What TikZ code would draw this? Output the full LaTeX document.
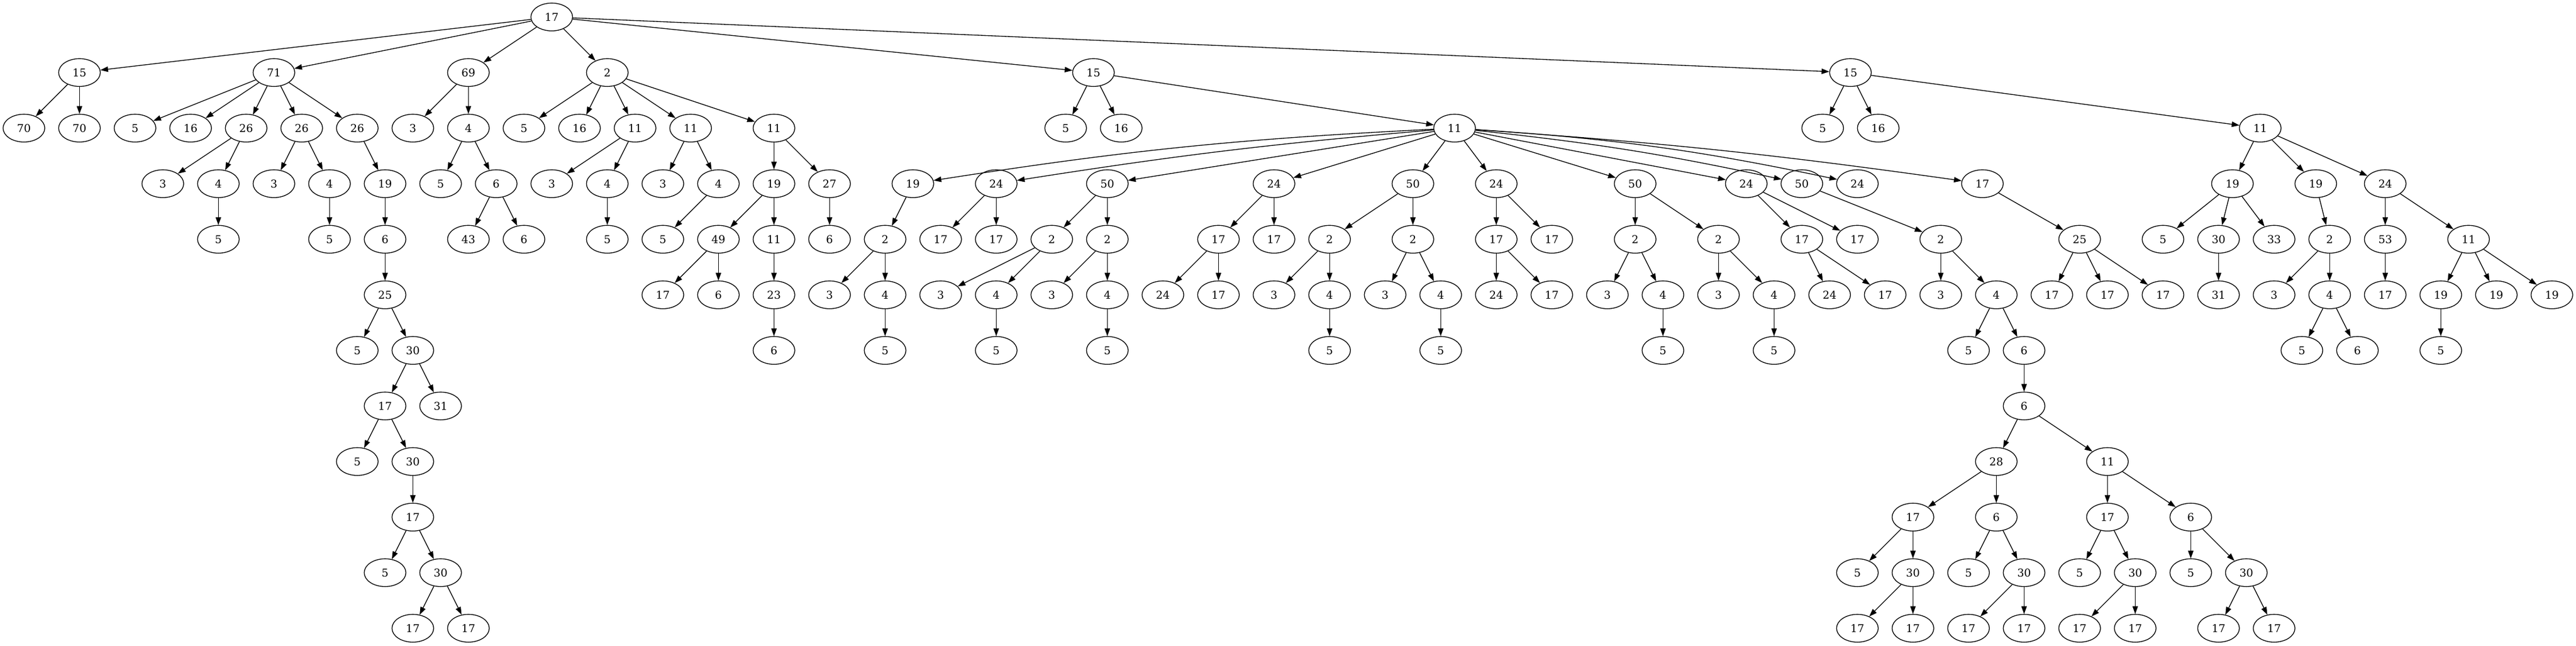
\documentclass[tikz,border=0pt]{standalone}
\usepackage{fontspec}
\setmainfont{DejaVu Serif}
\usetikzlibrary{arrows.meta,positioning,shapes.geometric}

\begin{document}
\begin{tikzpicture}[x=72pt,y=-72pt,node distance=72pt,on grid,line width=1pt,
    >={Triangle[length=10pt,width=7pt]},
    vtx/.style={ellipse,draw,minimum width=54pt,minimum height=36pt,inner sep=0pt,
      font=\fontsize{14pt}{16pt}\selectfont}]
      \useasboundingbox (-31pt,22pt) rectangle (3307.25pt,-814.25pt);
      \node[vtx] (a1) at (9.5,0) {17};

      \node[vtx] (b1) at (1,1) {15};
      \node[vtx] (b2) at (4.5,1) {71};
      \node[vtx] (b3) at (8,1) {69};
      \node[vtx] (b4) at (10.5,1) {2};
      \node[vtx] (b5) at (19.25,1) {15};
      \node[vtx] (b6) at (32.875,1) {15};

      \node[vtx] (c1) at (0,2) {70};
      \node[vtx] (c2) [below=of b1] {70};
      \node[vtx] (c3) [right=of c2] {5};
      \node[vtx] (c4) [right=of c3] {16};
      \node[vtx] (c5) [right=of c4] {26};
      \node[vtx] (c6) [right=of c5] {26};
      \node[vtx] (c7) [right=of c6] {26};
      \node[vtx] (c8) [right=of c7] {3};
      \node[vtx] (c9) [below=of b3] {4};
      \node[vtx] (c10) [right=of c9] {5};
      \node[vtx] (c11) [right=of c10] {16};
      \node[vtx] (c12) [right=of c11] {11};
      \node[vtx] (c13) [right=of c12] {11};
      \node[vtx] (c14) at (13.5,2) {11};
      \node[vtx] (c15) [below left=72pt and 36pt of b5] {5};
      \node[vtx] (c16) [right=of c15] {16};
      \node[vtx] (c17) at (25.75,2) {11};
      \node[vtx] (c18) [below left=72pt and 36pt of b6] {5};
      \node[vtx] (c19) [right=of c18] {16};
      \node[vtx] (c20) at (40.25,2) {11};

      \node[vtx] (d1) at (2.5,3) {3};
      \node[vtx] (d2) [right=of d1] {4};
      \node[vtx] (d3) [right=of d2] {3};
      \node[vtx] (d4) [right=of d3] {4};
      \node[vtx] (d5) [right=of d4] {19};
      \node[vtx] (d6) [right=of d5] {5};
      \node[vtx] (d7) [right=of d6] {6};
      \node[vtx] (d8) [right=of d7] {3};
      \node[vtx] (d9) [right=of d8] {4};
      \node[vtx] (d10) [right=of d9] {3};
      \node[vtx] (d11) [right=of d10] {4};
      \node[vtx] (d12) [right=of d11] {19};
      \node[vtx] (d13) [right=of d12] {27};
      \node[vtx] (d14) at (16,3) {19};
      \node[vtx] (d15) at (17.5,3) {24};
      \node[vtx] (d16) at (19.5,3) {50};
      \node[vtx] (d17) at (22.5,3) {24};
      \node[vtx] (d18) at (25,3) {50};
      \node[vtx] (d19) at (26.5,3) {24};
      \node[vtx] (d20) at (29,3) {50};
      \node[vtx] (d21) at (31,3) {24};
      \node[vtx] (d22) [right=of d21] {50};
      \node[vtx] (d23) [right=of d22] {24};
      \node[vtx] (d24) at (35.25,3) {17};
      \node[vtx] (d25) at (39.75,3) {19};
      \node[vtx] (d26) at (41.25,3) {19};
      \node[vtx] (d27) at (42.5,3) {24};

      \node[vtx] (e1) [below=of d2] {5};
      \node[vtx] (e2) [below=of d4] {5};
      \node[vtx] (e3) [below=of d5] {6};
      \node[vtx] (e4) [below left=72pt and 36pt of d7] {43};
      \node[vtx] (e5) [right=of e4] {6};
      \node[vtx] (e6) [below=of d9] {5};
      \node[vtx] (e7) [below=of d10] {5};
      \node[vtx] (e8) [right=of e7] {49};
      \node[vtx] (e9) [right=of e8] {11};
      \node[vtx] (e10) [right=of e9] {6};
      \node[vtx] (e11) [right=of e10] {2};
      \node[vtx] (e12) [right=of e11] {17};
      \node[vtx] (e13) [right=of e12] {17};
      \node[vtx] (e14) [right=of e13] {2};
      \node[vtx] (e15) [right=of e14] {2};
      \node[vtx] (e16) at (21.5,4) {17};
      \node[vtx] (e17) [right=of e16] {17};
      \node[vtx] (e18) [right=of e17] {2};
      \node[vtx] (e19) [below=of d18] {2};
      \node[vtx] (e20) [below=of d19] {17};
      \node[vtx] (e21) [right=of e20] {17};
      \node[vtx] (e22) [below=of d20] {2};
      \node[vtx] (e23) at (30.5,4) {2};
      \node[vtx] (e24) [below=of d22] {17};
      \node[vtx] (e25) [right=of e24] {17};
      \node[vtx] (e26) at (34.5,4) {2};
      \node[vtx] (e27) at (37,4) {25};
      \node[vtx] (e28) at (38.5,4) {5};
      \node[vtx] (e29) [right=of e28] {30};
      \node[vtx] (e30) [right=of e29] {33};
      \node[vtx] (e31) [right=of e30] {2};
      \node[vtx] (e32) [right=of e31] {53};
      \node[vtx] (e33) at (44,4) {11};

      \node[vtx] (f1) [below=of e3] {25};
      \node[vtx] (f2) [below=of e7] {17};
      \node[vtx] (f3) [right=of f2] {6};
      \node[vtx] (f4) [right=of f3] {23};
      \node[vtx] (f5) [right=of f4] {3};
      \node[vtx] (f6) [right=of f5] {4};
      \node[vtx] (f7) [right=of f6] {3};
      \node[vtx] (f8) [right=of f7] {4};
      \node[vtx] (f9) [right=of f8] {3};
      \node[vtx] (f10) [right=of f9] {4};
      \node[vtx] (f11) [right=of f10] {24};
      \node[vtx] (f12) [right=of f11] {17};
      \node[vtx] (f13) [right=of f12] {3};
      \node[vtx] (f14) [right=of f13] {4};
      \node[vtx] (f15) [right=of f14] {3};
      \node[vtx] (f16) [right=of f15] {4};
      \node[vtx] (f17) [right=of f16] {24};
      \node[vtx] (f18) [right=of f17] {17};
      \node[vtx] (f19) [right=of f18] {3};
      \node[vtx] (f20) [right=of f19] {4};
      \node[vtx] (f21) [right=of f20] {3};
      \node[vtx] (f22) [right=of f21] {4};
      \node[vtx] (f23) [right=of f22] {24};
      \node[vtx] (f24) [right=of f23] {17};
      \node[vtx] (f25) [right=of f24] {3};
      \node[vtx] (f26) [right=of f25] {4};
      \node[vtx] (f27) [right=of f26] {17};
      \node[vtx] (f28) [right=of f27] {17};
      \node[vtx] (f29) [right=of f28] {17};
      \node[vtx] (f30) [right=of f29] {31};
      \node[vtx] (f31) [right=of f30] {3};
      \node[vtx] (f32) [right=of f31] {4};
      \node[vtx] (f33) [right=of f32] {17};
      \node[vtx] (f34) [right=of f33] {19};
      \node[vtx] (f35) [right=of f34] {19};
      \node[vtx] (f36) [right=of f35] {19};

      \node[vtx] (g1) [below left=72pt and 36pt of f1] {5};
      \node[vtx] (g2) [right=of g1] {30};
      \node[vtx] (g3) [below=of f4] {6};
      \node[vtx] (g4) [below=of f6] {5};
      \node[vtx] (g5) [below=of f8] {5};
      \node[vtx] (g6) [below=of f10] {5};
      \node[vtx] (g7) [below=of f14] {5};
      \node[vtx] (g8) [below=of f16] {5};
      \node[vtx] (g9) [below=of f20] {5};
      \node[vtx] (g10) [below=of f22] {5};
      \node[vtx] (g11) [below left=72pt and 36pt of f26] {5};
      \node[vtx] (g12) [right=of g11] {6};
      \node[vtx] (g13) [below left=72pt and 36pt of f32] {5};
      \node[vtx] (g14) [right=of g13] {6};
      \node[vtx] (g15) [below=of f34] {5};

      \node[vtx] (h1) [below left=72pt and 36pt of g2] {17};
      \node[vtx] (h2) [right=of h1] {31};
      \node[vtx] (h3) [below=of g12] {6};

      \node[vtx] (i1) [below left=72pt and 36pt of h1] {5};
      \node[vtx] (i2) [right=of i1] {30};
      \node[vtx] (i3) [below left=72pt and 36pt of h3] {28};
      \node[vtx] (i4) [below right=72pt and 108pt of h3] {11};

      \node[vtx] (j1) [below=of i2] {17};
      \node[vtx] (j2) [below left=72pt and 108pt of i3] {17};
      \node[vtx] (j3) [below=of i3] {6};
      \node[vtx] (j4) [below=of i4] {17};
      \node[vtx] (j5) [below right=72pt and 108pt of i4] {6};

      \node[vtx] (k1) [below left=72pt and 36pt of j1] {5};
      \node[vtx] (k2) [right=of k1] {30};
      \node[vtx] (k3) [below left=72pt and 72pt of j2] {5};
      \node[vtx] (k4) [right=of k3] {30};
      \node[vtx] (k5) [right=of k4] {5};
      \node[vtx] (k6) [right=of k5] {30};
      \node[vtx] (k7) [right=of k6] {5};
      \node[vtx] (k8) [right=of k7] {30};
      \node[vtx] (k9) [right=of k8] {5};
      \node[vtx] (k10) [right=of k9] {30};

      \node[vtx] (l1) [below left=72pt and 36pt of k2] {17};
      \node[vtx] (l2) [right=of l1] {17};
      \node[vtx] (l3) [below left=72pt and 72pt of k4] {17};
      \node[vtx] (l4) [right=of l3] {17};
      \node[vtx] (l5) [right=of l4] {17};
      \node[vtx] (l6) [right=of l5] {17};
      \node[vtx] (l7) [right=of l6] {17};
      \node[vtx] (l8) [right=of l7] {17};
      \node[vtx] (l9) [below left=72pt and 36pt of k10] {17};
      \node[vtx] (l10) [right=of l9] {17};

      \path[->]
      (a1) edge (b1) (a1) edge (b2) (a1) edge (b3) (a1) edge (b4) (a1) edge (b5) (a1) edge (b6)
      (b1) edge (c1) (b1) edge (c2)
      (b2) edge (c3) (b2) edge (c4) (b2) edge (c5) (b2) edge (c6) (b2) edge (c7)
      (b3) edge (c8) (b3) edge (c9)
      (b4) edge (c10) (b4) edge (c11) (b4) edge (c12) (b4) edge (c13) (b4) edge (c14)
      (b5) edge (c15) (b5) edge (c16) (b5) edge (c17)
      (b6) edge (c18) (b6) edge (c19) (b6) edge (c20)
      (c5) edge (d1) (c5) edge (d2)
      (c6) edge (d3) (c6) edge (d4)
      (c7) edge (d5)
      (c9) edge (d6) (c9) edge (d7)
      (c12) edge (d8) (c12) edge (d9)
      (c13) edge (d10) (c13) edge (d11)
      (c14) edge (d12) (c14) edge (d13)
      (c17) edge [bend right=3] (d14) (c17) edge [bend right=2] (d15) (c17) edge (d16)
      (c17) edge (d17) (c17) edge (d18) (c17) edge (d19) (c17) edge (d20) (c17) edge (d21)
      (c17) edge [bend left=3] (d22) (c17) edge [bend left=4] (d23) (c17) edge [bend left=2] (d24)
      (c20) edge (d25) (c20) edge (d26) (c20) edge (d27)
      (d2) edge (e1)
      (d4) edge (e2)
      (d5) edge (e3)
      (d7) edge (e4) (d7) edge (e5)
      (d9) edge (e6)
      (d11) edge (e7)
      (d12) edge (e8) (d12) edge (e9)
      (d13) edge (e10)
      (d14) edge (e11)
      (d15) edge (e12) (d15) edge (e13)
      (d16) edge (e14) (d16) edge (e15)
      (d17) edge (e16) (d17) edge (e17)
      (d18) edge (e18) (d18) edge (e19)
      (d19) edge (e20) (d19) edge (e21)
      (d20) edge (e22) (d20) edge (e23)
      (d21) edge (e24) (d21) edge (e25)
      (d22) edge (e26)
      (d24) edge (e27)
      (d25) edge (e28) (d25) edge (e29) (d25) edge (e30)
      (d26) edge (e31)
      (d27) edge (e32) (d27) edge (e33)
      (e3) edge (f1)
      (e8) edge (f2) (e8) edge (f3)
      (e9) edge (f4)
      (e11) edge (f5) (e11) edge (f6)
      (e14) edge (f7) (e14) edge (f8)
      (e15) edge (f9) (e15) edge (f10)
      (e16) edge (f11) (e16) edge (f12)
      (e18) edge (f13) (e18) edge (f14)
      (e19) edge (f15) (e19) edge (f16)
      (e20) edge (f17) (e20) edge (f18)
      (e22) edge (f19) (e22) edge (f20)
      (e23) edge (f21) (e23) edge (f22)
      (e24) edge (f23) (e24) edge (f24)
      (e26) edge (f25) (e26) edge (f26)
      (e27) edge (f27) (e27) edge (f28) (e27) edge (f29)
      (e29) edge (f30)
      (e31) edge (f31) (e31) edge (f32)
      (e32) edge (f33)
      (e33) edge (f34) (e33) edge (f35) (e33) edge (f36)
      (f1) edge (g1) (f1) edge (g2)
      (f4) edge (g3)
      (f6) edge (g4)
      (f8) edge (g5)
      (f10) edge (g6)
      (f14) edge (g7)
      (f16) edge (g8)
      (f20) edge (g9)
      (f22) edge (g10)
      (f26) edge (g11) (f26) edge (g12)
      (f32) edge (g13) (f32) edge (g14)
      (f34) edge (g15)
      (g2) edge (h1) (g2) edge (h2)
      (g12) edge (h3)
      (h1) edge (i1) (h1) edge (i2)
      (h3) edge (i3) (h3) edge (i4)
      (i2) edge (j1)
      (i3) edge (j2) (i3) edge (j3)
      (i4) edge (j4) (i4) edge (j5)
      (j1) edge (k1) (j1) edge (k2)
      (j2) edge (k3) (j2) edge (k4)
      (j3) edge (k5) (j3) edge (k6)
      (j4) edge (k7) (j4) edge (k8)
      (j5) edge (k9) (j5) edge (k10)
      (k2) edge (l1) (k2) edge (l2)
      (k4) edge (l3) (k4) edge (l4)
      (k6) edge (l5) (k6) edge (l6)
      (k8) edge (l7) (k8) edge (l8)
      (k10) edge (l9) (k10) edge (l10);
\end{tikzpicture}
\end{document}
